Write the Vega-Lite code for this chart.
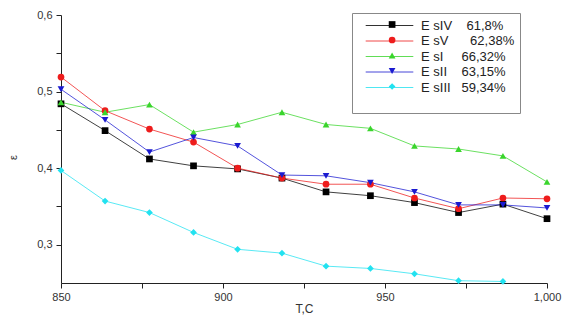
{
  "$schema": "https://vega.github.io/schema/vega-lite/v6.json",
  "width": 486,
  "height": 268,
  "autosize": {"type": "none"},
  "padding": {"left": 61, "top": 15, "right": 17, "bottom": 39},
  "background": "white",
  "config": {
    "view": {"stroke": null},
    "font": "Liberation Sans",
    "axis": {"grid": false, "domainColor": "#222", "tickColor": "#222", "labelColor": "#333", "labelFontSize": 11, "titleColor": "#333", "titleFontWeight": "normal"}
  },
  "data": {
    "values": [
      {"x": 850, "y": 0.484, "s": "a"}, {"x": 863.6, "y": 0.449, "s": "a"}, {"x": 877.3, "y": 0.412, "s": "a"}, {"x": 890.9, "y": 0.403, "s": "a"}, {"x": 904.5, "y": 0.399, "s": "a"}, {"x": 918.2, "y": 0.387, "s": "a"}, {"x": 931.8, "y": 0.369, "s": "a"}, {"x": 945.5, "y": 0.364, "s": "a"}, {"x": 959.1, "y": 0.355, "s": "a"}, {"x": 972.7, "y": 0.342, "s": "a"}, {"x": 986.4, "y": 0.353, "s": "a"}, {"x": 1000, "y": 0.334, "s": "a"},
      {"x": 850, "y": 0.519, "s": "b"}, {"x": 863.6, "y": 0.475, "s": "b"}, {"x": 877.3, "y": 0.451, "s": "b"}, {"x": 890.9, "y": 0.434, "s": "b"}, {"x": 904.5, "y": 0.400, "s": "b"}, {"x": 918.2, "y": 0.387, "s": "b"}, {"x": 931.8, "y": 0.379, "s": "b"}, {"x": 945.5, "y": 0.379, "s": "b"}, {"x": 959.1, "y": 0.361, "s": "b"}, {"x": 972.7, "y": 0.347, "s": "b"}, {"x": 986.4, "y": 0.361, "s": "b"}, {"x": 1000, "y": 0.360, "s": "b"},
      {"x": 850, "y": 0.486, "s": "c"}, {"x": 863.6, "y": 0.473, "s": "c"}, {"x": 877.3, "y": 0.483, "s": "c"}, {"x": 890.9, "y": 0.447, "s": "c"}, {"x": 904.5, "y": 0.457, "s": "c"}, {"x": 918.2, "y": 0.473, "s": "c"}, {"x": 931.8, "y": 0.457, "s": "c"}, {"x": 945.5, "y": 0.452, "s": "c"}, {"x": 959.1, "y": 0.429, "s": "c"}, {"x": 972.7, "y": 0.425, "s": "c"}, {"x": 986.4, "y": 0.416, "s": "c"}, {"x": 1000, "y": 0.382, "s": "c"},
      {"x": 850, "y": 0.503, "s": "d"}, {"x": 863.6, "y": 0.463, "s": "d"}, {"x": 877.3, "y": 0.421, "s": "d"}, {"x": 890.9, "y": 0.440, "s": "d"}, {"x": 904.5, "y": 0.429, "s": "d"}, {"x": 918.2, "y": 0.391, "s": "d"}, {"x": 931.8, "y": 0.390, "s": "d"}, {"x": 945.5, "y": 0.381, "s": "d"}, {"x": 959.1, "y": 0.369, "s": "d"}, {"x": 972.7, "y": 0.352, "s": "d"}, {"x": 986.4, "y": 0.352, "s": "d"}, {"x": 1000, "y": 0.348, "s": "d"},
      {"x": 850, "y": 0.397, "s": "e"}, {"x": 863.6, "y": 0.357, "s": "e"}, {"x": 877.3, "y": 0.342, "s": "e"}, {"x": 890.9, "y": 0.316, "s": "e"}, {"x": 904.5, "y": 0.294, "s": "e"}, {"x": 918.2, "y": 0.289, "s": "e"}, {"x": 931.8, "y": 0.272, "s": "e"}, {"x": 945.5, "y": 0.269, "s": "e"}, {"x": 959.1, "y": 0.262, "s": "e"}, {"x": 972.7, "y": 0.253, "s": "e"}, {"x": 986.4, "y": 0.252, "s": "e"}
    ]
  },
  "encoding": {
    "x": {"field": "x", "type": "quantitative", "scale": {"domain": [850, 1000], "nice": false, "zero": false},
      "axis": {"title": "T,C", "titleFontSize": 12, "titlePadding": 1, "values": [850, 875, 900, 925, 950, 975, 1000], "labelExpr": "datum.value % 50 == 0 ? datum.label : ''", "tickSize": 5, "labelPadding": 3, "labelFlush": false}},
    "y": {"field": "y", "type": "quantitative", "scale": {"domain": [0.25, 0.6], "nice": false, "zero": false},
      "axis": {"title": "ε", "titleFontSize": 11, "titlePadding": 18, "titleY": 142, "values": [0.3, 0.35, 0.4, 0.45, 0.5, 0.55, 0.6], "labelExpr": "round(datum.value*100) % 10 == 0 ? replace(format(datum.value, '.1f'), '.', ',') : ''", "tickSize": 5, "labelPadding": 4}}
  },
  "layer": [
    {
      "mark": {"type": "line", "strokeWidth": 1, "opacity": 0.75},
      "encoding": {
        "color": {"field": "s", "type": "nominal",
          "scale": {"domain": ["a", "b", "c", "d", "e"], "range": ["#000000", "#ee1c1c", "#3ad52c", "#1a1ad0", "#22e2f0"]},
          "legend": {
            "orient": "none", "legendX": 291, "legendY": -2,
            "title": " ", "titleOrient": "bottom", "titleFontSize": 8,
            "strokeColor": "#888", "padding": 5,
            "symbolType": "M-3.4,0H3.4", "symbolSize": 196, "symbolStrokeWidth": 1, "symbolOffset": 25, "symbolOpacity": 0.8,
            "labelOffset": 24, "labelFontSize": 13, "labelColor": "#222", "rowPadding": 0.5,
            "labelExpr": "datum.value == 'a' ? 'E sIV\u00a0\u00a0\u00a0\u00a061,8%' : datum.value == 'b' ? 'E sV\u00a0\u00a0\u00a0\u00a0\u00a0\u00a062,38%' : datum.value == 'c' ? 'E sI\u00a0\u00a0\u00a0\u00a0\u00a066,32%' : datum.value == 'd' ? 'E sII\u00a0\u00a0\u00a0\u00a063,15%' : 'E sIII\u00a0\u00a0\u00a059,34%'"
          }
        }
      }
    },
    {
      "mark": {"type": "point", "filled": true, "opacity": 1, "size": 45, "strokeWidth": 0},
      "encoding": {
        "shape": {"field": "s", "type": "nominal", "scale": {"range": ["square", "circle", "triangle-up", "triangle-down", "diamond"]},
          "legend": {
            "orient": "none", "legendX": 291, "legendY": -2, "title": null,
            "padding": 5, "symbolSize": 45, "symbolOffset": 28.6, "symbolStrokeWidth": 0, "symbolOpacity": 1,
            "labelOffset": 24, "labelFontSize": 13, "labelOpacity": 0, "rowPadding": 1.5,
            "labelExpr": "''"
          }},
        "fill": {"field": "s", "type": "nominal", "scale": {"range": ["#000000", "#ee1c1c", "#3ad52c", "#1a1ad0", "#22e2f0"]}}
      }
    }
  ]
}
